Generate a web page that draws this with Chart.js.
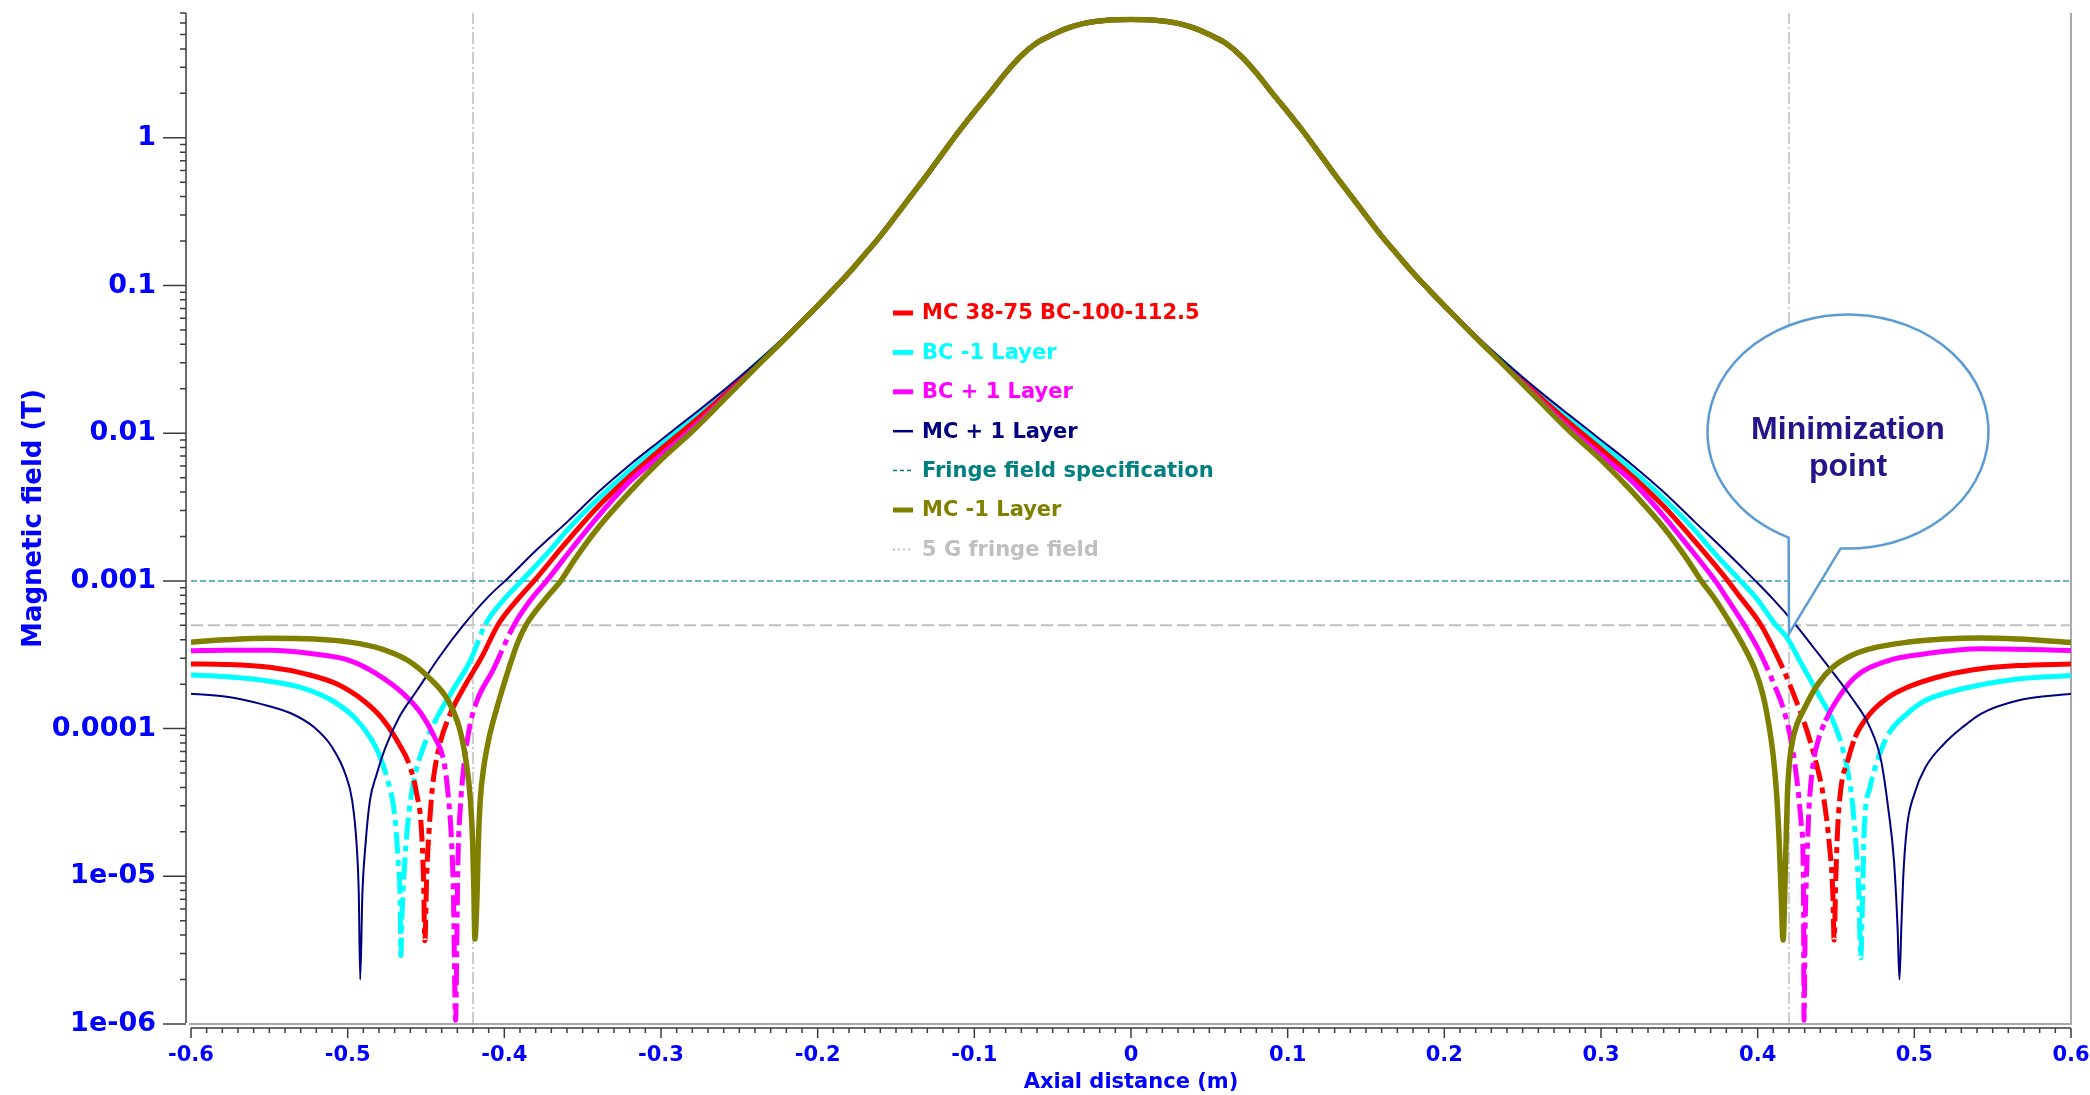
<!DOCTYPE html>
<html>
<head>
<meta charset="utf-8">
<title>Axial magnetic field profile</title>
<script src="https://cdn.jsdelivr.net/npm/chart.js@4.4.1/dist/chart.umd.min.js"></script>
<style>
  html, body { margin: 0; padding: 0; background: #ffffff; }
  #wrap { width: 2090px; height: 1095px; }
</style>
</head>
<body>
<div id="wrap"><canvas id="fieldChart" width="2090" height="1095"></canvas></div>
<script>
// ---- axis definitions ----
const xTickValues = [-0.6, -0.5, -0.4, -0.3, -0.2, -0.1, 0, 0.1, 0.2, 0.3, 0.4, 0.5, 0.6];
const xTickLabels = ['-0.6', '-0.5', '-0.4', '-0.3', '-0.2', '-0.1', '0', '0.1', '0.2', '0.3', '0.4', '0.5', '0.6'];
const yTickValues = [1e-6, 1e-5, 1e-4, 1e-3, 1e-2, 1e-1, 1];
const yTickLabels = ['1e-06', '1e-05', '0.0001', '0.001', '0.01', '0.1', '1'];
const yMin = 1e-6;
const yMax = 7;

// ---- reference levels (T) and marker positions (m) ----
const fringeSpecT = 0.001;
const fringe5GT = 0.0005;
const markerX = [-0.42, 0.42];

// ---- central profile, common to every winding variant ----
const coreX = [-0.21, -0.2, -0.19, -0.18, -0.17, -0.16, -0.15, -0.14, -0.13, -0.12, -0.11, -0.1, -0.09, -0.08, -0.07, -0.06, -0.05, -0.04, -0.03, -0.02, -0.01,
  0, 0.01, 0.02, 0.03, 0.04, 0.05, 0.06, 0.07, 0.08, 0.09, 0.1, 0.11, 0.12, 0.13, 0.14, 0.15, 0.16, 0.17, 0.18, 0.19, 0.2, 0.21];
const coreB = [0.057, 0.073, 0.094, 0.122, 0.162, 0.216, 0.297, 0.41, 0.565, 0.79, 1.1, 1.5, 2.02, 2.75, 3.6, 4.4, 5.0, 5.55, 5.95, 6.17, 6.29,
  6.33, 6.29, 6.17, 5.95, 5.55, 5.0, 4.4, 3.6, 2.75, 2.02, 1.5, 1.1, 0.79, 0.565, 0.41, 0.297, 0.216, 0.162, 0.122, 0.094, 0.073, 0.057];

// ---- MC 38-75 BC-100-112.5 ----
const redLeftX = [-0.6, -0.5784, -0.5498, -0.5271, -0.5071, -0.49, -0.4786, -0.4673, -0.4601, -0.4559, -0.453, -0.4516, -0.4507, -0.4496, -0.4479, -0.4459,
  -0.4416, -0.4345, -0.4245, -0.4145, -0.404, -0.3903, -0.381, -0.36, -0.34, -0.32, -0.3, -0.28, -0.26, -0.24, -0.22];
const redLeftB = [2.74e-4, 2.72e-4, 2.6e-4, 2.35e-4, 2.01e-4, 1.55e-4, 1.19e-4, 7.9e-5, 5.5e-5, 3.6e-5, 2.15e-5, 9.8e-6, 3.66e-6, 9.8e-6, 2.15e-5, 4.0e-5,
  7.5e-5, 1.26e-4, 2.01e-4, 3.04e-4, 5.05e-4, 7.76e-4, 1.0e-3, 1.85e-3, 3.2e-3, 5.1e-3, 7.8e-3, 0.0117, 0.018, 0.0283, 0.0448];
const redRightX = [0.22, 0.24, 0.26, 0.28, 0.3, 0.32, 0.34, 0.36, 0.381, 0.3867, 0.402, 0.41, 0.418, 0.425, 0.431, 0.4362, 0.4421, 0.4457, 0.448, 0.4488,
  0.4499, 0.4511, 0.4532, 0.4575, 0.4622, 0.4717, 0.4835, 0.4953, 0.5189, 0.5425, 0.5661, 0.6];
const redRightB = [0.0448, 0.0283, 0.018, 0.0117, 0.0078, 0.0051, 0.0032, 0.00185, 0.001, 0.00083, 5.05e-4, 3.5e-4, 2.3e-4, 1.5e-4, 1.0e-4, 6.5e-5, 3.4e-5, 1.66e-5, 7.6e-6, 3.7e-6,
  9.8e-6, 2.15e-5, 4.0e-5, 6.07e-5, 8.73e-5, 1.26e-4, 1.63e-4, 1.9e-4, 2.29e-4, 2.54e-4, 2.67e-4, 2.74e-4];

// ---- BC -1 Layer ----
const cyanLeftX = [-0.6, -0.5784, -0.5498, -0.5271, -0.51, -0.4957, -0.4872, -0.48, -0.4743, -0.4701, -0.4678, -0.4664, -0.4661, -0.4652, -0.4635, -0.461,
  -0.4573, -0.4516, -0.443, -0.433, -0.4217, -0.4122, -0.3989, -0.389, -0.37, -0.36, -0.34, -0.32, -0.3, -0.28, -0.26, -0.24, -0.22];
const cyanLeftB = [2.31e-4, 2.25e-4, 2.09e-4, 1.86e-4, 1.55e-4, 1.19e-4, 9.2e-5, 6.7e-5, 4.4e-5, 2.64e-5, 1.28e-5, 5.85e-6, 2.9e-6, 5.85e-6, 1.28e-5, 2.64e-5,
  4.68e-5, 7.5e-5, 1.19e-4, 1.81e-4, 2.89e-4, 5.05e-4, 7.76e-4, 1.0e-3, 1.65e-3, 2.2e-3, 3.6e-3, 5.6e-3, 8.4e-3, 0.0124, 0.0187, 0.0288, 0.045];
const cyanRightX = [0.22, 0.24, 0.26, 0.28, 0.3, 0.32, 0.34, 0.36, 0.37, 0.389, 0.3985, 0.4114, 0.4185, 0.4268, 0.4386, 0.448, 0.4551, 0.4598, 0.4627, 0.4646, 0.4658,
  0.467, 0.4681, 0.4717, 0.4764, 0.4835, 0.4953, 0.5071, 0.5307, 0.5661, 0.6];
const cyanRightB = [0.045, 0.0288, 0.0187, 0.0124, 0.0084, 0.0056, 0.0036, 0.0022, 0.00165, 0.001, 7.8e-4, 5.05e-4, 4.16e-4, 2.89e-4, 1.72e-4, 1.13e-4, 6.73e-5, 3.61e-5, 1.66e-5, 7.6e-6, 2.8e-6,
  7.6e-6, 2.15e-5, 4.0e-5, 6.07e-5, 9.2e-5, 1.26e-4, 1.55e-4, 1.86e-4, 2.17e-4, 2.29e-4];

// ---- BC + 1 Layer ----
const magentaLeftX = [-0.6, -0.5784, -0.5498, -0.5214, -0.4986, -0.4815, -0.4644, -0.453, -0.4444, -0.4387, -0.4359, -0.4336, -0.4325, -0.4311, -0.4302, -0.4296,
  -0.4282, -0.4259, -0.4222, -0.4174, -0.4074, -0.3937, -0.3818, -0.373, -0.357, -0.34, -0.32, -0.3, -0.28, -0.26, -0.24, -0.22];
const magentaLeftB = [3.37e-4, 3.39e-4, 3.39e-4, 3.2e-4, 2.89e-4, 2.35e-4, 1.72e-4, 1.26e-4, 8.7e-5, 6.07e-5, 3.61e-5, 1.66e-5, 7.6e-6, 1.06e-6, 4.5e-6, 1.28e-5,
  2.79e-5, 5.5e-5, 1.02e-4, 1.55e-4, 2.47e-4, 5.05e-4, 7.76e-4, 1.0e-3, 1.65e-3, 2.75e-3, 4.7e-3, 7.1e-3, 0.0108, 0.0172, 0.0278, 0.0447];
const magentaRightX = [0.22, 0.24, 0.26, 0.28, 0.3, 0.32, 0.34, 0.357, 0.373, 0.3819, 0.3914, 0.4008, 0.4103, 0.4174, 0.4221, 0.4256, 0.428, 0.4292, 0.4296,
  0.4303, 0.4315, 0.4327, 0.4351, 0.4386, 0.4433, 0.4504, 0.4622, 0.4835, 0.5071, 0.5425, 0.6];
const magentaRightB = [0.0447, 0.0278, 0.0172, 0.0108, 0.0071, 0.0047, 0.00275, 0.00165, 0.001, 7.2e-4, 5.05e-4, 3.38e-4, 2.01e-4, 1.26e-4, 7.48e-5, 4.0e-5, 2.15e-5, 9.8e-6, 1.06e-6,
  4.5e-6, 1.28e-5, 2.79e-5, 5.47e-5, 8.3e-5, 1.13e-4, 1.55e-4, 2.23e-4, 2.89e-4, 3.21e-4, 3.47e-4, 3.38e-4];

// ---- MC + 1 Layer ----
const navyLeftX = [-0.6, -0.5784, -0.5555, -0.5356, -0.5214, -0.51, -0.5014, -0.4971, -0.4943, -0.4929, -0.492, -0.4906, -0.4886, -0.4858, -0.4815, -0.4758,
  -0.4672, -0.4558, -0.4416, -0.4259, -0.4103, -0.397, -0.38, -0.36, -0.34, -0.32, -0.3, -0.28, -0.26, -0.24, -0.22];
const navyLeftB = [1.72e-4, 1.65e-4, 1.47e-4, 1.26e-4, 1.02e-4, 7.5e-5, 4.9e-5, 3.25e-5, 1.65e-5, 7.6e-6, 2.0e-6, 7.6e-6, 1.65e-5, 3.25e-5, 4.9e-5, 7.5e-5,
  1.19e-4, 1.81e-4, 3.04e-4, 5.05e-4, 7.8e-4, 1.06e-3, 1.6e-3, 2.5e-3, 4.0e-3, 6.1e-3, 9.0e-3, 0.0132, 0.0195, 0.0295, 0.0455];
const navyRightX = [0.22, 0.24, 0.26, 0.28, 0.3, 0.32, 0.34, 0.36, 0.38, 0.397, 0.41, 0.4244, 0.436, 0.448, 0.4598, 0.4717, 0.4788, 0.4835, 0.487,
  0.4893, 0.4905, 0.4917, 0.4929, 0.4953, 0.5, 0.5071, 0.5189, 0.5307, 0.5425, 0.5661, 0.6];
const navyRightB = [0.0455, 0.0295, 0.0195, 0.0132, 0.009, 0.0061, 0.004, 0.0025, 0.00157, 0.00104, 7.5e-4, 5.02e-4, 3.5e-4, 2.4e-4, 1.63e-4, 1.02e-4, 6.07e-5, 2.8e-5, 1.28e-5,
  4.5e-6, 2.0e-6, 4.5e-6, 9.8e-6, 2.15e-5, 3.61e-5, 5.47e-5, 7.87e-5, 1.02e-4, 1.26e-4, 1.55e-4, 1.72e-4];

// ---- MC -1 Layer ----
const oliveLeftX = [-0.6, -0.5784, -0.5498, -0.5214, -0.4986, -0.4786, -0.4615, -0.4473, -0.4359, -0.4288, -0.4245, -0.4216, -0.4202, -0.4194, -0.4188, -0.4174,
  -0.4166, -0.4154, -0.4131, -0.4097, -0.4046, -0.3974, -0.392, -0.386, -0.3735, -0.364, -0.355, -0.34, -0.32, -0.3, -0.28, -0.26, -0.24, -0.22];
const oliveLeftB = [3.85e-4, 3.99e-4, 4.09e-4, 4.04e-4, 3.85e-4, 3.47e-4, 2.89e-4, 2.17e-4, 1.55e-4, 1.02e-4, 6.07e-5, 3.25e-5, 1.66e-5, 7.6e-6, 3.76e-6, 7.6e-6,
  1.66e-5, 3.25e-5, 5.5e-5, 8.7e-5, 1.4e-4, 2.5e-4, 3.7e-4, 5.05e-4, 7.6e-4, 1.0e-3, 1.4e-3, 2.3e-3, 4.0e-3, 6.6e-3, 0.0103, 0.0168, 0.0275, 0.0445];
const oliveRightX = [0.22, 0.24, 0.26, 0.28, 0.3, 0.32, 0.34, 0.355, 0.364, 0.3725, 0.3831, 0.3914, 0.3985, 0.4032, 0.4067, 0.4098, 0.4121, 0.4138, 0.415, 0.4162,
  0.4178, 0.419, 0.4204, 0.4232, 0.4303, 0.4386, 0.448, 0.4598, 0.4717, 0.4953, 0.5189, 0.5425, 0.5661, 0.6];
const oliveRightB = [0.0445, 0.0275, 0.0168, 0.0103, 0.0066, 0.004, 0.0023, 0.0014, 0.001, 7.6e-4, 5.05e-4, 3.56e-4, 2.47e-4, 1.72e-4, 1.13e-4, 6.73e-5, 3.61e-5, 1.66e-5, 7.6e-6, 3.7e-6,
  1.28e-5, 3.61e-5, 6.07e-5, 9.2e-5, 1.4e-4, 2.01e-4, 2.61e-4, 3.13e-4, 3.47e-4, 3.84e-4, 4.04e-4, 4.11e-4, 4.04e-4, 3.84e-4];

// ---- helpers that turn the arrays into Chart.js points ----
function toPoints(xs, bs) {
  return xs.map((x, i) => ({ x: x, y: bs[i] }));
}
function profile(leftX, leftB, rightX, rightB) {
  return [...toPoints(leftX, leftB), ...toPoints(coreX, coreB), ...toPoints(rightX, rightB)];
}

// steep stretches of the dash-dot traces are drawn broken, flat stretches solid
const steepDash = ctx => {
  const dx = Math.abs(ctx.p1.x - ctx.p0.x);
  const dy = Math.abs(ctx.p1.y - ctx.p0.y);
  return (dy > 2 * dx && dy > 10) ? [22, 6, 6, 6] : undefined;
};

const curveBase = {
  pointRadius: 0,
  cubicInterpolationMode: 'monotone',
  borderJoinStyle: 'bevel',
  borderCapStyle: 'butt',
  fill: false
};

const datasets = [
  Object.assign({}, curveBase, {
    label: 'MC 38-75 BC-100-112.5', data: profile(redLeftX, redLeftB, redRightX, redRightB),
    borderColor: '#ff0000', borderWidth: 5, order: 4, segment: { borderDash: steepDash },
    legendText: '#ff0000', legendWidth: 5, legendDash: []
  }),
  Object.assign({}, curveBase, {
    label: 'BC -1 Layer', data: profile(cyanLeftX, cyanLeftB, cyanRightX, cyanRightB),
    borderColor: '#00ffff', borderWidth: 5, order: 5, segment: { borderDash: steepDash },
    legendText: '#00ffff', legendWidth: 5, legendDash: []
  }),
  Object.assign({}, curveBase, {
    label: 'BC + 1 Layer', data: profile(magentaLeftX, magentaLeftB, magentaRightX, magentaRightB),
    borderColor: '#ff00ff', borderWidth: 5, order: 3, segment: { borderDash: steepDash },
    legendText: '#ff00ff', legendWidth: 5, legendDash: []
  }),
  Object.assign({}, curveBase, {
    label: 'MC + 1 Layer', data: profile(navyLeftX, navyLeftB, navyRightX, navyRightB),
    borderColor: '#000080', borderWidth: 2, order: 2,
    legendText: '#000080', legendWidth: 2.5, legendDash: []
  }),
  {
    label: 'Fringe field specification',
    data: [{ x: xTickValues[0], y: fringeSpecT }, { x: xTickValues[xTickValues.length - 1], y: fringeSpecT }],
    borderColor: '#3aa3a3', borderWidth: 1.5, borderDash: [6, 3], pointRadius: 0, order: 8,
    legendText: '#008080', legendColor: '#008080', legendWidth: 1.5, legendDash: [4, 3]
  },
  Object.assign({}, curveBase, {
    label: 'MC -1 Layer', data: profile(oliveLeftX, oliveLeftB, oliveRightX, oliveRightB),
    borderColor: '#808000', borderWidth: 5.5, order: 1,
    legendText: '#808000', legendWidth: 5, legendDash: []
  }),
  {
    label: '5 G fringe field',
    data: [{ x: xTickValues[0], y: fringe5GT }, { x: xTickValues[xTickValues.length - 1], y: fringe5GT }],
    borderColor: '#c0c0c0', borderWidth: 2, borderDash: [12, 5], pointRadius: 0, order: 9,
    legendText: '#c0c0c0', legendWidth: 2, legendDash: [2, 3]
  },
  {
    label: '', hideInLegend: true,
    data: [{ x: markerX[0], y: yMin }, { x: markerX[0], y: yMax }],
    borderColor: '#9a9a9a', borderWidth: 1, borderDash: [12, 3, 2, 3], pointRadius: 0, order: 10
  },
  {
    label: '', hideInLegend: true,
    data: [{ x: markerX[1], y: yMin }, { x: markerX[1], y: yMax }],
    borderColor: '#9a9a9a', borderWidth: 1, borderDash: [12, 3, 2, 3], pointRadius: 0, order: 10
  }
];

// plot frame, offset axis lines and major/minor tick marks
const axisFrame = {
  id: 'axisFrame',
  beforeDatasetsDraw(chart) {
    const { ctx, chartArea: a } = chart;
    ctx.save();
    ctx.strokeStyle = '#a8a8a8';
    ctx.lineWidth = 2;
    ctx.beginPath();
    ctx.moveTo(a.left - 2, a.bottom);
    ctx.lineTo(a.right, a.bottom);
    ctx.lineTo(a.right, a.top);
    ctx.stroke();
    ctx.restore();
  },
  afterDraw(chart) {
    const { ctx, chartArea: a, scales } = chart;
    const xs = scales.x, ys = scales.y;
    ctx.save();
    ctx.strokeStyle = '#3c3c3c';
    ctx.lineWidth = 1.5;
    // vertical axis
    const ax = a.left - 5;
    ctx.beginPath();
    ctx.moveTo(ax, a.top);
    ctx.lineTo(ax, a.bottom - 1);
    for (let d = -6; d <= 0; d++) {
      const py = ys.getPixelForValue(Math.pow(10, d));
      ctx.moveTo(ax - 23, py);
      ctx.lineTo(ax, py);
      for (let m = 2; m <= 9; m++) {
        const v = m * Math.pow(10, d);
        if (v > yMax + 1e-9) break;
        const pm = ys.getPixelForValue(v);
        ctx.moveTo(ax - 6, pm);
        ctx.lineTo(ax, pm);
      }
    }
    ctx.stroke();
    // horizontal axis
    const ay = a.bottom + 4;
    ctx.beginPath();
    ctx.moveTo(a.left, ay);
    ctx.lineTo(a.right, ay);
    for (let k = -60; k <= 60; k++) {
      const px = xs.getPixelForValue(k / 100);
      const len = (k % 10 === 0) ? 10 : 5;
      ctx.moveTo(px, ay);
      ctx.lineTo(px, ay + len);
    }
    ctx.stroke();
    ctx.restore();
  }
};

// legend placed inside the plot, text coloured like each trace
const inlineLegend = {
  id: 'inlineLegend',
  afterDatasetsDraw(chart, args, o) {
    const { ctx } = chart;
    ctx.save();
    ctx.font = 'bold 21px "DejaVu Sans", Verdana, sans-serif';
    ctx.textBaseline = 'middle';
    ctx.textAlign = 'left';
    let row = 0;
    chart.data.datasets.forEach(ds => {
      if (ds.hideInLegend) return;
      const y = o.top + row * o.rowGap;
      ctx.beginPath();
      ctx.setLineDash(ds.legendDash || []);
      ctx.lineWidth = ds.legendWidth;
      ctx.strokeStyle = ds.legendColor || ds.borderColor;
      ctx.moveTo(o.left, y);
      ctx.lineTo(o.left + o.sample, y);
      ctx.stroke();
      ctx.setLineDash([]);
      ctx.fillStyle = ds.legendText;
      ctx.fillText(ds.label, o.left + o.sample + o.gap, y + 1);
      row++;
    });
    ctx.restore();
  }
};

// speech-balloon annotation pointing at the minimisation point
const callout = {
  id: 'callout',
  afterDatasetsDraw(chart, args, o) {
    const { ctx, scales } = chart;
    const tx = scales.x.getPixelForValue(o.tipX);
    const ty = scales.y.getPixelForValue(o.tipY);
    const cx = tx + o.dx, cy = ty + o.dy;
    const aR = o.baseRight * Math.PI / 180;
    const aL = o.baseLeft * Math.PI / 180;
    ctx.save();
    ctx.beginPath();
    ctx.moveTo(tx, ty);
    ctx.lineTo(cx + o.rx * Math.cos(aR), cy + o.ry * Math.sin(aR));
    ctx.ellipse(cx, cy, o.rx, o.ry, 0, aR, aL, true);
    ctx.closePath();
    ctx.fillStyle = '#ffffff';
    ctx.fill();
    ctx.lineWidth = 2.5;
    ctx.strokeStyle = '#5b9bd5';
    ctx.lineJoin = 'miter';
    ctx.stroke();
    ctx.fillStyle = '#22168a';
    ctx.font = 'bold 32px "Liberation Sans", Arial, sans-serif';
    ctx.textAlign = 'center';
    ctx.textBaseline = 'alphabetic';
    o.lines.forEach((t, i) => ctx.fillText(t, cx, cy + 7 + i * 37));
    ctx.restore();
  }
};

Chart.defaults.font.family = '"DejaVu Sans", Verdana, sans-serif';

// fixed scale boxes so the plot area keeps its place
const fixBox = (s, size) => {
  if (s.isHorizontal()) { s.height = size; } else { s.width = size; }
  s.paddingTop = 0; s.paddingBottom = 0; s.paddingLeft = 0; s.paddingRight = 0;
};

new Chart(document.getElementById('fieldChart'), {
  type: 'line',
  data: { datasets: datasets },
  options: {
    responsive: false,
    animation: false,
    devicePixelRatio: 1,
    layout: { padding: { top: 13, right: 19, left: 0, bottom: 0 } },
    plugins: {
      legend: { display: false },
      tooltip: { enabled: false },
      inlineLegend: { left: 893, top: 313, rowGap: 39.4, sample: 20, gap: 9 },
      callout: { tipX: 0.42, tipY: 4.4e-4, dx: 59, dy: -202, rx: 140.5, ry: 117, baseRight: 93, baseLeft: 115,
                 lines: ['Minimization', 'point'] }
    },
    scales: {
      x: {
        type: 'linear',
        min: -0.6,
        max: 0.6,
        afterFit: s => fixBox(s, 71),
        afterBuildTicks: s => { s.ticks = xTickValues.map(v => ({ value: v })); },
        grid: { display: false, drawTicks: false },
        border: { display: false },
        ticks: {
          padding: 19, color: '#0000ff', autoSkip: false, maxRotation: 0,
          font: { size: 21, weight: 'bold' },
          callback: (v, i) => xTickLabels[i]
        },
        title: {
          display: true, text: 'Axial distance (m)', color: '#0000ff',
          font: { size: 21, weight: 'bold' }, padding: { top: 0, bottom: 0 }
        }
      },
      y: {
        type: 'logarithmic',
        min: yMin,
        max: yMax,
        afterFit: s => fixBox(s, 191),
        afterBuildTicks: s => { s.ticks = yTickValues.map(v => ({ value: v })); },
        grid: { display: false, drawTicks: false },
        border: { display: false },
        ticks: {
          padding: 35, color: '#0000ff', autoSkip: false,
          font: { size: 27, weight: 'bold' },
          callback: (v, i) => yTickLabels[i]
        },
        title: {
          display: true, text: 'Magnetic field (T)', color: '#0000ff',
          font: { size: 26, weight: 'bold' }, padding: { top: 19, bottom: 0 }
        }
      }
    }
  },
  plugins: [axisFrame, inlineLegend, callout]
});
</script>
</body>
</html>
